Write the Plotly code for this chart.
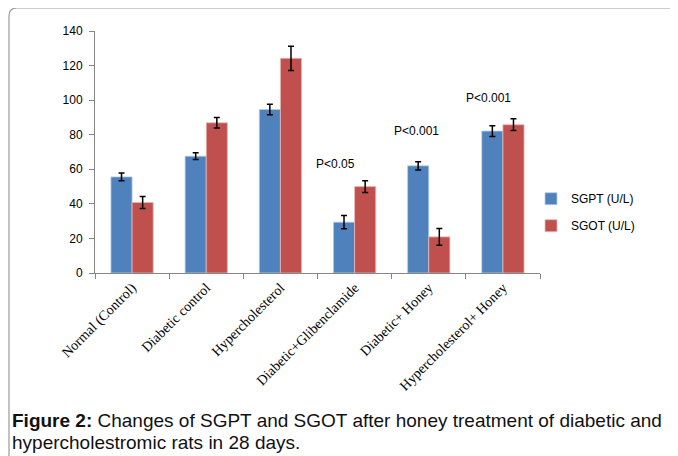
import plotly.graph_objects as go

categories = ["Normal (Control)", "Diabetic control", "Hypercholesterol",
              "Diabetic+Glibenclamide", "Diabetic+ Honey", "Hypercholesterol+ Honey"]
sgpt = [55.6, 67.6, 94.6, 29.4, 62.0, 82.1]
sgpt_err = [2.3, 2.0, 3.0, 3.8, 2.4, 3.1]
sgot = [40.8, 86.9, 124.2, 50.0, 20.9, 85.8]
sgot_err = [3.5, 3.0, 7.0, 3.4, 4.8, 3.4]
p_labels = ["P<0.05", "P<0.001", "P<0.001"]
p_index = [3, 4, 5]
p_offset = [-0.26, -0.17, -0.2]
p_y = [63, 82, 101]
y_ticks = [0, 20, 40, 60, 80, 100, 120, 140]

W, H = 678, 456
OFF = 8  # page body margin offset
L, R = 95 - OFF, 540 - OFF
T, B = 31 - OFF, 272.7 - OFF

def px(x):
    return (x - OFF - L) / (R - L)

def py(y):
    return (B - (y - OFF)) / (B - T)

fig = go.Figure()
fig.add_trace(go.Bar(
    x=categories, y=sgpt, name="SGPT (U/L)", legendgroup="a",
    marker=dict(color="#4F81BD", line=dict(color="#B9CDE5", width=0.8)),
    error_y=dict(type="data", array=sgpt_err, color="black", thickness=1.5, width=3),
))
fig.add_trace(go.Bar(
    x=categories, y=sgot, name="SGOT (U/L)", legendgroup="b",
    marker=dict(color="#C0504D", line=dict(color="#E6B9B8", width=0.8)),
    error_y=dict(type="data", array=sgot_err, color="black", thickness=1.5, width=3),
))

for lab, i, off, yv in zip(p_labels, p_index, p_offset, p_y):
    fig.add_annotation(x=i + off, y=yv, xref="x", yref="y", text=lab, showarrow=False,
                       font=dict(family="Liberation Sans", size=12, color="black"))

# frame
x0, x1 = px(9), px(720)
y0, y1 = py(8), py(500)
rx, ry = 8 / (R - L), 8 / (B - T)
fig.add_shape(type="path", xref="paper", yref="paper",
              path=f"M {x0},{y1} L {x0},{y0 - ry} Q {x0},{y0} {x0 + rx},{y0} L {x1},{y0}",
              line=dict(color="#9a9a9a", width=1.2))

# caption
fig.add_annotation(xref="paper", yref="paper", x=px(10), y=py(420), xanchor="left", yanchor="middle",
                   showarrow=False, align="left",
                   text="<b>Figure 2:</b> Changes of SGPT and SGOT after honey treatment of diabetic and",
                   font=dict(family="Liberation Sans", size=19, color="#111"))
fig.add_annotation(xref="paper", yref="paper", x=px(10), y=py(442), xanchor="left", yanchor="middle",
                   showarrow=False, align="left",
                   text="hypercholestromic rats in 28 days.",
                   font=dict(family="Liberation Sans", size=19, color="#111"))

fig.update_layout(
    width=W, height=H,
    margin=dict(l=L, r=W - R, t=T, b=H - B, autoexpand=False),
    paper_bgcolor="white", plot_bgcolor="white",
    barmode="group", bargap=0.43, bargroupgap=0,
    showlegend=True,
    legend=dict(x=px(531), y=py(184), xanchor="left", yanchor="top",
                font=dict(family="Liberation Sans", size=12, color="black"),
                tracegroupgap=8, bgcolor="rgba(0,0,0,0)"),
    xaxis=dict(showline=True, linecolor="#868686", linewidth=1, ticks="outside",
               tickson="boundaries", ticklen=5, tickcolor="#868686", tickangle=-45,
               tickfont=dict(family="Liberation Serif", size=14, color="black"),
               showgrid=False),
    yaxis=dict(range=[0, 140], tickvals=y_ticks, showline=True, linecolor="#868686",
               linewidth=1, ticks="outside", ticklen=5, tickcolor="#868686",
               ticklabelstandoff=4,
               tickfont=dict(family="Liberation Sans", size=12, color="black"),
               showgrid=False, zeroline=False),
)

fig.write_html("out.html")
